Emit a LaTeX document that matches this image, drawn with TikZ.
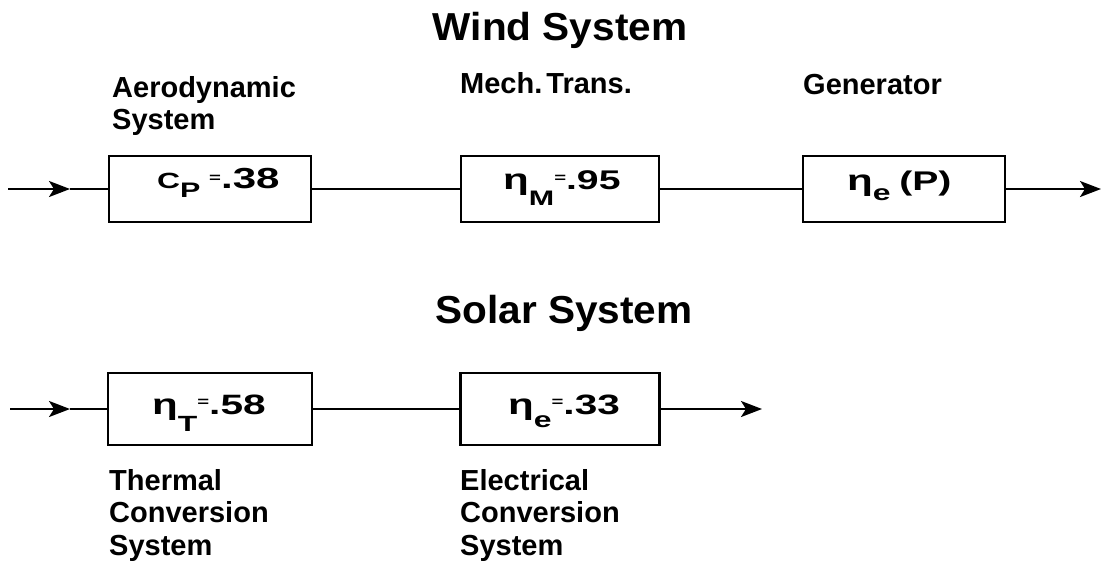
\documentclass[tikz,border=0pt]{standalone}
\usepackage{fontspec}
\setmainfont{Liberation Sans}
\usetikzlibrary{arrows.meta}
\newcommand\myfs[1]{\fontsize{#1}{#1}\selectfont}
\begin{document}
\begin{tikzpicture}[x=1pt,y=1pt,
  blk/.style={draw, line width=2.6pt, minimum width=#1, inner sep=0pt},
  rowa/.style={minimum height=66pt},
  rowb/.style={minimum height=72pt},
  ttl/.style={anchor=base, inner sep=0pt, font=\bfseries\myfs{39}, xscale=1.04, transform shape},
  lbl/.style={anchor=north west, inner sep=0pt, align=left, font=\bfseries\fontsize{29}{32.5}\selectfont},
  btxt/.style={anchor=base west, inner sep=0pt, font=\bfseries},
  conn/.style={line width=2.2pt},
  arr/.style={line width=2.2pt, -{Stealth[length=21pt,width=16pt,inset=5pt]}}
]
\useasboundingbox (0,0) rectangle (1102,-566);

% titles
\node[ttl] (wind) at (560,-40) {Wind System};
\node[ttl] (solar) at (564,-323) {Solar System};

% labels
\node[lbl] (la) at (112,-76) {Aerodynamic\\System};
\node[lbl] (lm) at (460,-72) {Mech.\hspace{4pt}Trans.};
\node[lbl] (lg) at (803,-74) {Generator};
\node[lbl] (lt) at (109,-469) {Thermal\\Conversion\\System};
\node[lbl] (le) at (460,-469) {Electrical\\Conversion\\System};

% boxes
\node[blk=202pt, rowa] (b1) at (210,-189) {};
\node[blk=198pt, rowa] (b2) at (560,-189) {};
\node[blk=202pt, rowa] (b3) at (904,-189) {};
\node[blk=204pt, rowb] (b4) at (210,-409) {};
\node[blk=199pt, rowb] (b5) at (560,-409) {};

% box texts
\node[btxt] (t1) at (157,-188) {\scalebox{1.45}[1]{\myfs{22}C\raisebox{-9pt}{\myfs{21}P}\hspace{6pt}\raisebox{6pt}{\myfs{14}=}\myfs{29}.38}};
\node[btxt] (t2) at (503,-189) {\scalebox{1.45}[1]{\myfs{29}η\raisebox{-16pt}{\myfs{21}M}\raisebox{7pt}{\myfs{14}=}\myfs{27}.95}};
\node[btxt] (t3) at (847,-190) {\scalebox{1.45}[1]{\myfs{29}η\raisebox{-10pt}{\myfs{22}e}\hspace{6pt}\myfs{27}(P)}};
\node[btxt] (t4) at (152,-414) {\scalebox{1.45}[1]{\myfs{29}η\raisebox{-17pt}{\myfs{22}T}\raisebox{8pt}{\myfs{14}=}\myfs{28}.58}};
\node[btxt] (t5) at (508,-414) {\scalebox{1.45}[1]{\myfs{29}η\raisebox{-13pt}{\myfs{22}e}\raisebox{8pt}{\myfs{14}=}\myfs{28}.33}};

% connector coordinates
\coordinate (s1) at (8,-189);
\coordinate (m1) at (70,-189);
\coordinate (o1) at (1101,-189);
\coordinate (s2) at (10,-409);
\coordinate (m2) at (70,-409);
\coordinate (o2) at (762,-409);

% row 1
\draw[arr] (s1) -- (m1);
\draw[conn] (m1) -- (b1.west);
\draw[conn] (b1.east) -- (b2.west);
\draw[conn] (b2.east) -- (b3.west);
\draw[arr] (b3.east) -- (o1);

% row 2
\draw[arr] (s2) -- (m2);
\draw[conn] (m2) -- (b4.west);
\draw[conn] (b4.east) -- (b5.west);
\draw[arr] (b5.east) -- (o2);
\end{tikzpicture}
\end{document}
